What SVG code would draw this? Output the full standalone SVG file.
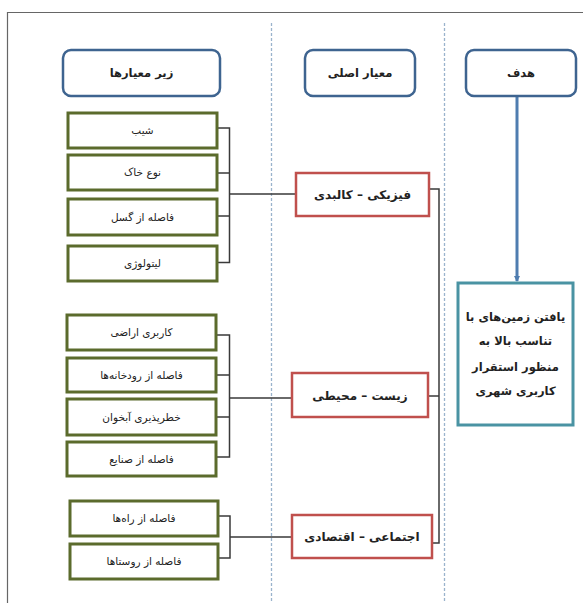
<svg xmlns="http://www.w3.org/2000/svg" width="583" height="603" viewBox="0 0 583 603">
<style>
text{font-family:"DejaVu Sans","Noto Sans",sans-serif;text-anchor:middle;direction:rtl;fill:#222}
.hdr rect{fill:#fff;stroke:#3e6490;stroke-width:2.5}
.hdr text{font-size:11.5px;font-weight:bold}
.sub rect{fill:#fff;stroke:#5b6b2c;stroke-width:3}
.sub text{font-size:10.5px}
.main rect{fill:#fff;stroke:#c0504d;stroke-width:2.5}
.main text{font-size:12px;font-weight:bold}
.goal rect{fill:#fff;stroke:#4a93a3;stroke-width:3}
.goal text{font-size:11.5px;font-weight:bold}
.conn{fill:none;stroke:#3a3a3a;stroke-width:1.5}
.dash{stroke:#9ab3cc;stroke-width:1.3;stroke-dasharray:3,2}
</style>
<defs>
<marker id="arr" markerWidth="6" markerHeight="6" refX="5" refY="3" orient="auto" markerUnits="userSpaceOnUse">
<path d="M0,0 L6,3 L0,6 z" fill="#4f7db0"/>
</marker>
</defs>
<rect x="0" y="0" width="583" height="603" fill="#fff"/>
<path d="M7.5,610 V12.5 H590" fill="none" stroke="#666" stroke-width="1.2"/>
<g id="dividers">
<line class="dash" x1="271.5" y1="23" x2="271.5" y2="603"/>
<line class="dash" x1="444.5" y1="23" x2="444.5" y2="603"/>
</g>
<g id="connectors">
<path class="conn" d="M217,128 H229.5 V262.5 H217 M217,173 H229.5 M217,216 H229.5 M229.5,194 H296"/>
<path class="conn" d="M216,335 H229.5 V457 H216 M216,375 H229.5 M216,417 H229.5 M229.5,398 H292"/>
<path class="conn" d="M218,516 H230 V558 H218 M230,537 H292"/>
<path class="conn" d="M429,189 H439 V543 H432 M428,396 H439"/>
<line x1="517" y1="97" x2="517" y2="281" stroke="#4f7db0" stroke-width="3" marker-end="url(#arr)"/>
</g>
<g id="h-sub" class="hdr"><rect x="63" y="50" width="157" height="46" rx="8"/><text x="141.5" y="77">زیر معیارها</text></g>
<g id="h-main" class="hdr"><rect x="305" y="50" width="110" height="46" rx="8"/><text x="360" y="77">معیار اصلی</text></g>
<g id="h-goal" class="hdr"><rect x="466" y="50" width="110" height="46" rx="8"/><text x="521" y="77">هدف</text></g>
<g id="s1" class="sub"><rect x="68" y="113" width="149" height="35"/><text x="142.5" y="134">شیب</text></g>
<g id="s2" class="sub"><rect x="68" y="155" width="149" height="35"/><text x="142.5" y="176">نوع خاک</text></g>
<g id="s3" class="sub"><rect x="68" y="199" width="149" height="36"/><text x="142.5" y="221">فاصله از گسل</text></g>
<g id="s4" class="sub"><rect x="68" y="246" width="149" height="35"/><text x="142.5" y="267">لیتولوژی</text></g>
<g id="s5" class="sub"><rect x="67" y="315" width="149" height="35"/><text x="141.5" y="336">کاربری اراضی</text></g>
<g id="s6" class="sub"><rect x="67" y="358" width="149" height="34"/><text x="141.5" y="379">فاصله از رودخانه‌ها</text></g>
<g id="s7" class="sub"><rect x="67" y="399" width="149" height="36"/><text x="141.5" y="421">خطرپذیری آبخوان</text></g>
<g id="s8" class="sub"><rect x="67" y="442" width="149" height="34"/><text x="141.5" y="463">فاصله از صنایع</text></g>
<g id="s9" class="sub"><rect x="70" y="501" width="148" height="35"/><text x="144" y="522">فاصله از راه‌ها</text></g>
<g id="s10" class="sub"><rect x="70" y="544" width="148" height="35"/><text x="144" y="565">فاصله از روستاها</text></g>
<g id="m1" class="main"><rect x="296" y="173" width="133" height="43"/><text x="362.5" y="199">فیزیکی – کالبدی</text></g>
<g id="m2" class="main"><rect x="292" y="373" width="136" height="44"/><text x="360" y="400">زیست – محیطی</text></g>
<g id="m3" class="main"><rect x="292" y="515" width="140" height="43"/><text x="362" y="541">اجتماعی – اقتصادی</text></g>
<g id="goal" class="goal"><rect x="458" y="283" width="115" height="142"/>
<text x="515.5" y="321">یافتن زمین‌های با</text>
<text x="515.5" y="345">تناسب بالا به</text>
<text x="515.5" y="371">منظور استقرار</text>
<text x="515.5" y="395">کاربری شهری</text>
</g>
</svg>
